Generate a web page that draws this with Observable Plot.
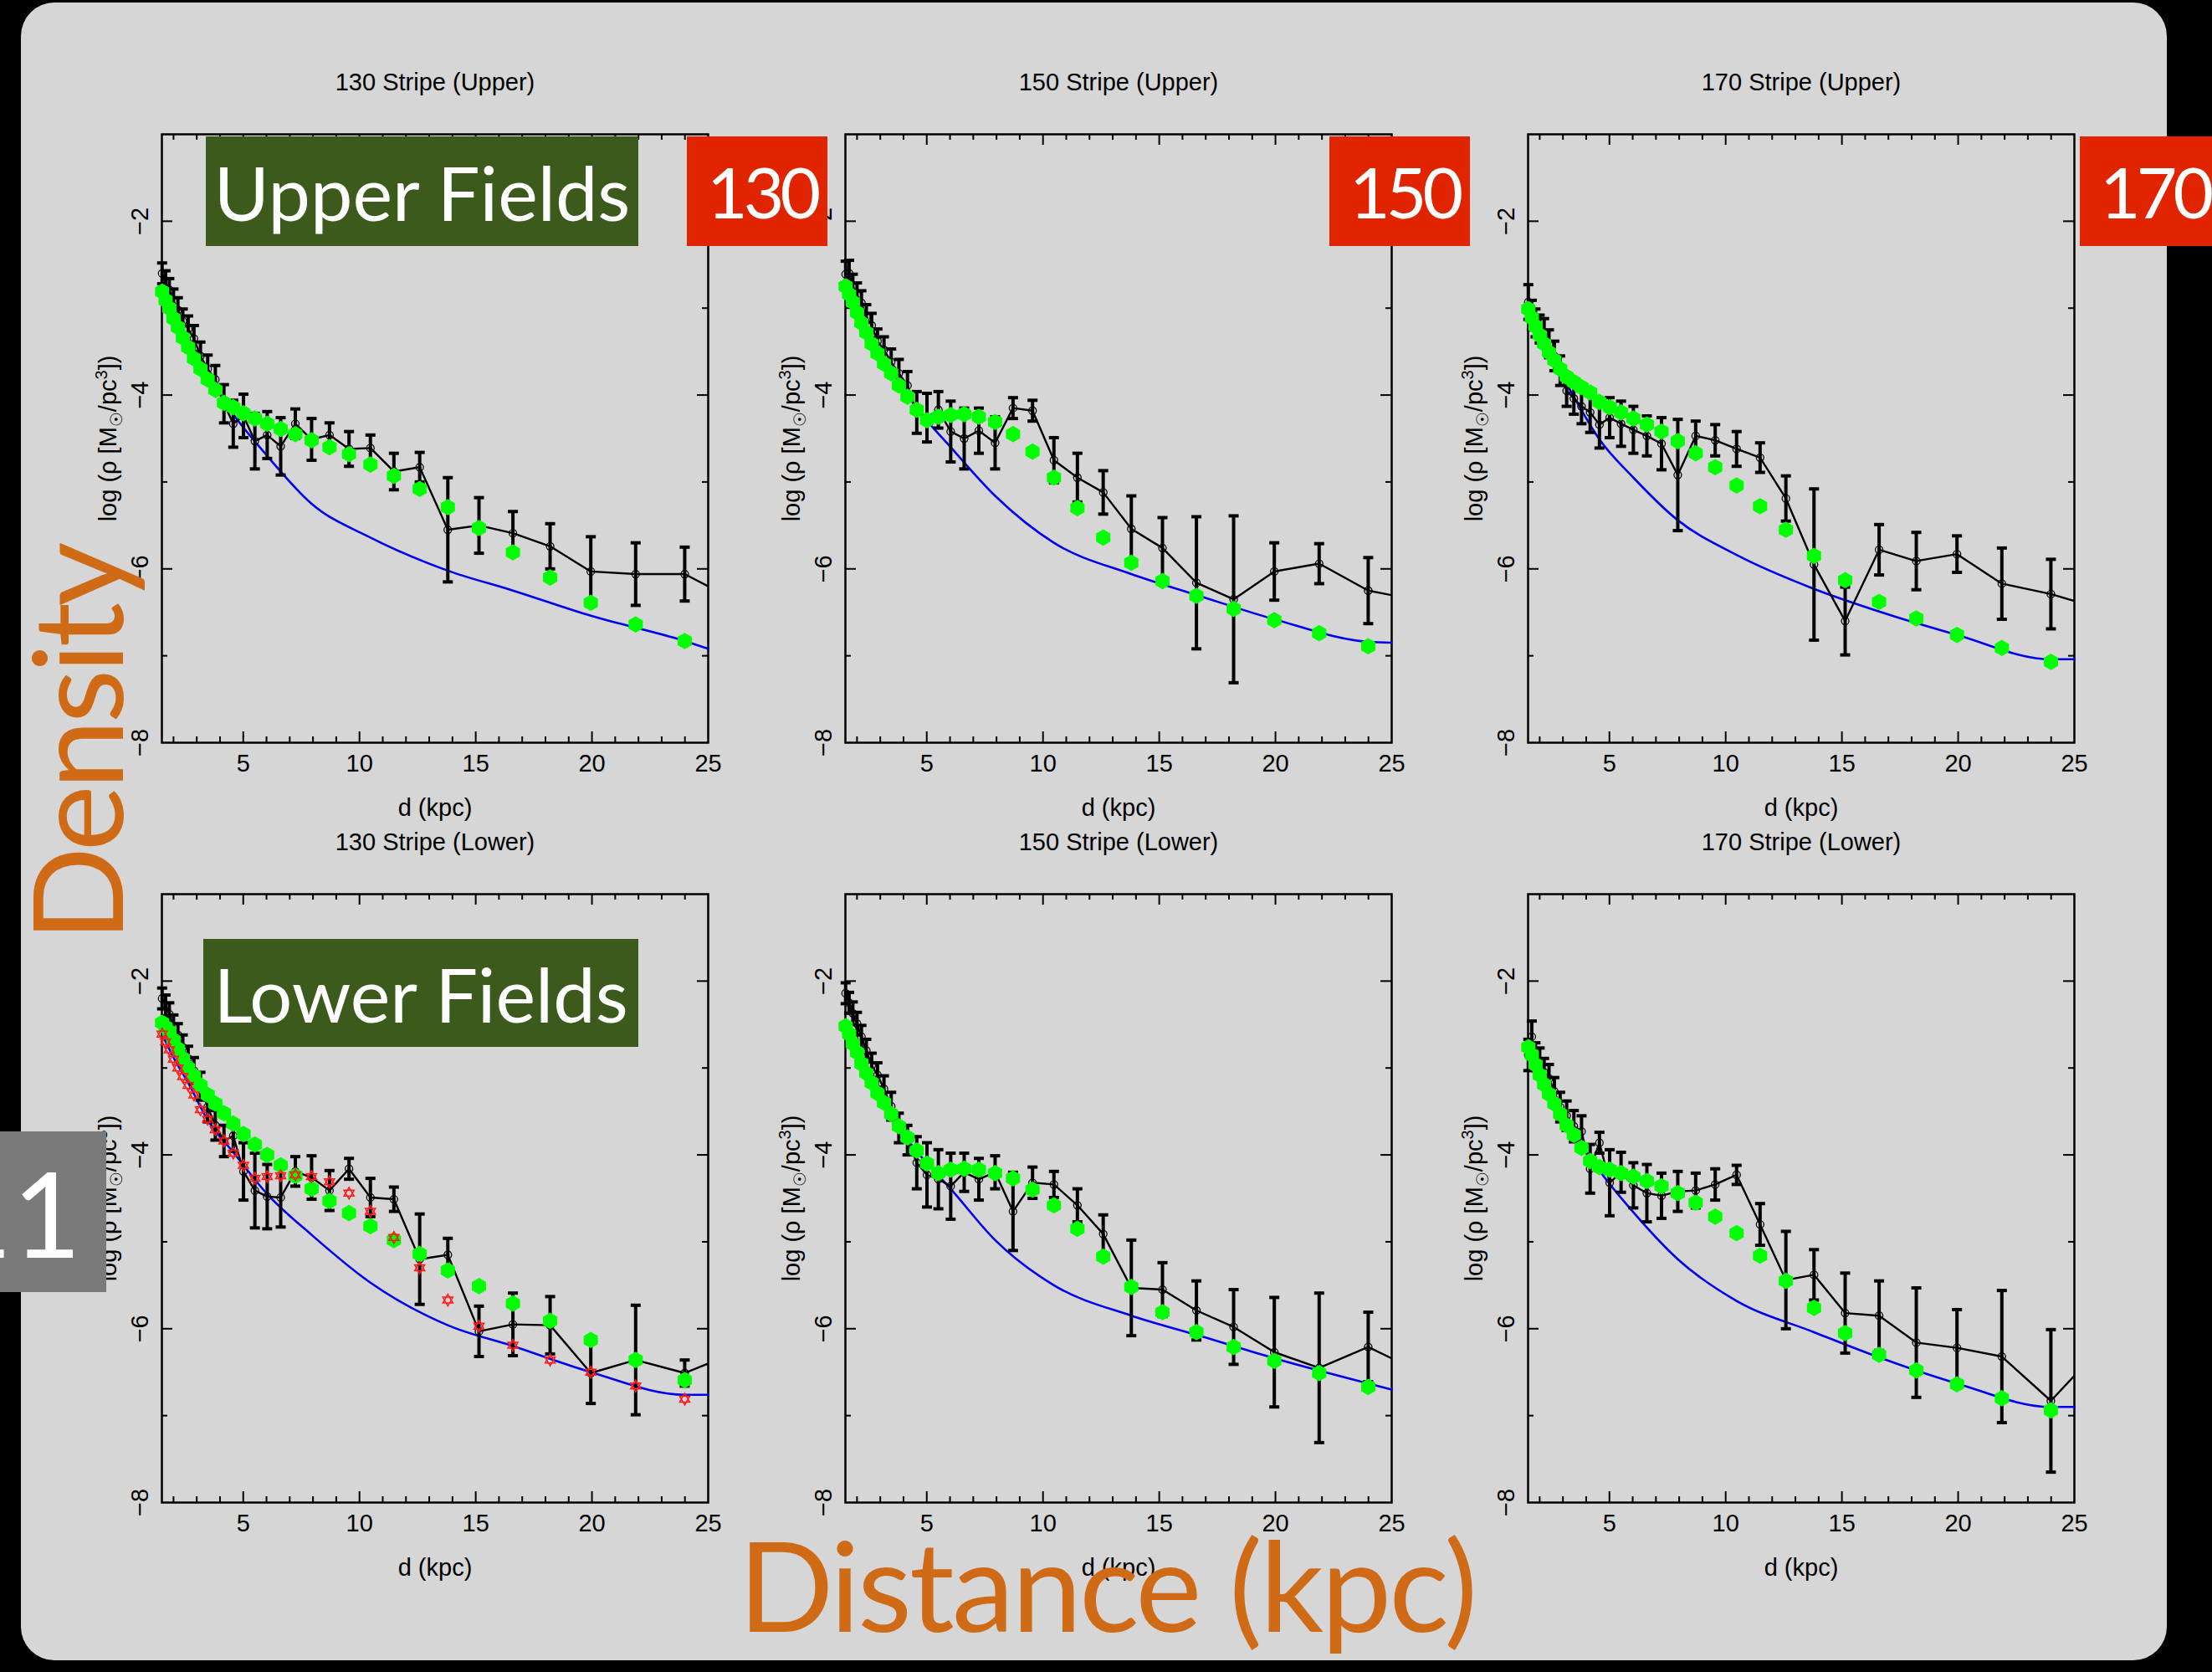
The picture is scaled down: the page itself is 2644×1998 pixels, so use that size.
<!DOCTYPE html>
<html><head><meta charset="utf-8">
<script src="https://cdn.jsdelivr.net/npm/d3@7"></script>
<script src="https://cdn.jsdelivr.net/npm/@observablehq/plot@0.6"></script>
<style>
html,body{margin:0;padding:0;background:#000;}
#page{position:relative;width:2644px;height:1998px;overflow:hidden;background:#000;}
#slide{position:absolute;left:25px;top:3px;width:2565px;height:1981px;border-radius:40px;background:#d6d6d6;}
.panel{position:absolute;width:783px;height:927px;}
.box{position:absolute;display:flex;align-items:center;color:#fff;font-family:Lato,sans-serif;font-size:90px;line-height:1;white-space:nowrap;overflow:hidden;box-sizing:border-box;}
.green{background:#3b5a1b;justify-content:center;}
.red{background:#e02400;padding-left:24px;font-size:84px;letter-spacing:-5px;}
.grey{background:#7a7a7a;justify-content:flex-end;padding-right:30px;font-size:142px;}
.big{position:absolute;color:#cf6b17;font-family:Lato,sans-serif;font-size:150px;line-height:1;white-space:nowrap;}
</style></head><body><div id="page"><div id="slide"></div></div>
<script>
// ---------- data ----------
const dist = [1.51, 1.66, 1.82, 2.00, 2.19, 2.40, 2.63, 2.88, 3.16, 3.47, 3.80, 4.17, 4.57, 5.01, 5.50, 6.03, 6.61, 7.24, 7.94, 8.71, 9.55, 10.47, 11.48, 12.59, 13.80, 15.14, 16.60, 18.20, 19.95, 21.88, 23.99, 26.30];
const smoothDist = [1.51, 2.00, 2.63, 3.47, 4.57, 6.03, 7.94, 10.47, 13.80, 16.60, 19.95, 23.99, 25.00];

const titles = ["130 Stripe (Upper)", "150 Stripe (Upper)", "170 Stripe (Upper)", "130 Stripe (Lower)", "150 Stripe (Lower)", "170 Stripe (Lower)"];
const xLabel = "d (kpc)";
const yLabel = "log (ρ [M☉/pc³])";
const xTickValues = [5, 10, 15, 20, 25];
const xTickLabels = ["5", "10", "15", "20", "25"];
const yTickValues = [-2, -4, -6, -8];
const yTickLabels = ["−2", "−4", "−6", "−8"];
const xMajorTicks = [5, 10, 15, 20];
const xMinorTicks = [2, 3, 4, 6, 7, 8, 9, 11, 12, 13, 14, 16, 17, 18, 19, 21, 22, 23, 24];
const yMajorTicks = [-2, -4, -6];
const yMinorTicks = [-3, -5, -7];

// Upper 130
const upper130Obs = [-2.60, -2.70, -2.79, -2.92, -3.02, -3.15, -3.24, -3.35, -3.55, -3.70, -3.82, -4.10, -4.33, -4.24, -4.53, -4.46, -4.59, -4.33, -4.51, -4.46, -4.62, -4.61, -4.88, -4.83, -5.55, -5.50, -5.59, -5.74, -6.03, -6.06, -6.06, -6.38];
const upper130Err = [0.12, 0.13, 0.13, 0.14, 0.14, 0.14, 0.15, 0.15, 0.16, 0.16, 0.16, 0.22, 0.27, 0.25, 0.32, 0.27, 0.33, 0.17, 0.24, 0.14, 0.20, 0.15, 0.21, 0.17, 0.60, 0.32, 0.25, 0.26, 0.40, 0.36, 0.31];
const upper130Model = [-2.81, -2.91, -3.00, -3.12, -3.22, -3.34, -3.45, -3.58, -3.70, -3.82, -3.94, -4.09, -4.14, -4.21, -4.27, -4.33, -4.39, -4.45, -4.52, -4.60, -4.68, -4.80, -4.93, -5.08, -5.29, -5.53, -5.81, -6.10, -6.39, -6.64, -6.83];
const upper130Smooth = [-2.79, -3.05, -3.36, -3.77, -4.22, -4.70, -5.25, -5.64, -6.02, -6.25, -6.54, -6.83, -6.92];

// Upper 150
const upper150Obs = [-2.61, -2.60, -2.75, -2.85, -2.94, -3.10, -3.20, -3.38, -3.48, -3.62, -3.75, -3.89, -4.20, -4.26, -4.17, -4.42, -4.50, -4.41, -4.55, -4.15, -4.18, -4.75, -4.95, -5.12, -5.54, -5.76, -6.16, -6.35, -6.03, -5.94, -6.25, -6.37];
const upper150Err = [0.15, 0.15, 0.14, 0.14, 0.14, 0.14, 0.14, 0.14, 0.15, 0.15, 0.16, 0.16, 0.24, 0.28, 0.21, 0.35, 0.35, 0.26, 0.30, 0.12, 0.12, 0.26, 0.28, 0.25, 0.38, 0.35, 0.76, 0.96, 0.33, 0.23, 0.38];
const upper150Model = [-2.75, -2.84, -2.93, -3.05, -3.17, -3.28, -3.41, -3.52, -3.64, -3.75, -3.89, -4.02, -4.17, -4.29, -4.25, -4.23, -4.22, -4.25, -4.31, -4.45, -4.65, -4.95, -5.30, -5.64, -5.93, -6.14, -6.31, -6.46, -6.59, -6.74, -6.89];
const upper150Smooth = [-2.75, -3.02, -3.32, -3.71, -4.15, -4.60, -5.16, -5.70, -6.06, -6.30, -6.58, -6.84, -6.85];

// Upper 170
const upper170Obs = [-2.93, -3.08, -3.17, -3.24, -3.28, -3.41, -3.55, -3.72, -3.95, -4.04, -4.13, -4.20, -4.34, -4.26, -4.33, -4.40, -4.47, -4.56, -4.92, -4.47, -4.52, -4.62, -4.72, -5.19, -5.95, -6.60, -5.78, -5.91, -5.83, -6.17, -6.29, -6.47];
const upper170Err = [0.20, 0.17, 0.16, 0.16, 0.16, 0.16, 0.17, 0.17, 0.18, 0.18, 0.20, 0.23, 0.27, 0.23, 0.26, 0.27, 0.23, 0.30, 0.64, 0.17, 0.18, 0.20, 0.17, 0.26, 0.87, 0.39, 0.29, 0.33, 0.21, 0.41, 0.40];
const upper170Model = [-3.01, -3.11, -3.21, -3.31, -3.41, -3.51, -3.60, -3.70, -3.79, -3.85, -3.91, -3.97, -4.08, -4.14, -4.20, -4.27, -4.34, -4.42, -4.53, -4.67, -4.83, -5.04, -5.28, -5.55, -5.85, -6.13, -6.38, -6.57, -6.76, -6.91, -7.07];
const upper170Smooth = [-3.00, -3.27, -3.61, -4.02, -4.51, -4.95, -5.44, -5.84, -6.23, -6.49, -6.76, -7.04, -7.04];

// Lower 130
const lower130Obs = [-2.20, -2.28, -2.38, -2.52, -2.62, -2.76, -2.89, -3.03, -3.21, -3.45, -3.66, -3.84, -3.78, -4.19, -4.41, -4.48, -4.49, -4.19, -4.26, -4.41, -4.16, -4.49, -4.51, -5.20, -5.15, -6.03, -5.95, -5.96, -6.51, -6.36, -6.51, -6.26];
const lower130Err = [0.12, 0.12, 0.13, 0.13, 0.13, 0.14, 0.14, 0.15, 0.16, 0.17, 0.17, 0.18, 0.18, 0.33, 0.43, 0.37, 0.34, 0.17, 0.25, 0.23, 0.12, 0.22, 0.14, 0.52, 0.19, 0.29, 0.36, 0.33, 0.35, 0.63, 0.15];
const lower130Model = [-2.48, -2.53, -2.58, -2.68, -2.78, -2.89, -3.00, -3.09, -3.20, -3.31, -3.41, -3.52, -3.64, -3.76, -3.88, -4.00, -4.12, -4.24, -4.39, -4.53, -4.67, -4.82, -4.98, -5.14, -5.33, -5.51, -5.71, -5.91, -6.13, -6.36, -6.59];
const lower130Alt = [-2.61, -2.70, -2.79, -2.90, -3.00, -3.10, -3.20, -3.31, -3.48, -3.59, -3.71, -3.84, -3.98, -4.12, -4.27, -4.25, -4.24, -4.23, -4.25, -4.31, -4.44, -4.65, -4.95, -5.30, -5.67, -5.97, -6.19, -6.36, -6.50, -6.66, -6.81];
const lower130Smooth = [-2.61, -2.88, -3.17, -3.60, -3.97, -4.45, -4.92, -5.47, -5.96, -6.20, -6.50, -6.76, -6.76];

// Lower 150
const lower150Obs = [-2.14, -2.25, -2.37, -2.49, -2.64, -2.80, -2.97, -3.08, -3.24, -3.44, -3.69, -3.83, -4.09, -4.23, -4.28, -4.36, -4.20, -4.28, -4.20, -4.65, -4.32, -4.34, -4.58, -4.91, -5.53, -5.55, -5.79, -5.98, -6.27, -6.45, -6.21, -6.51];
const lower150Err = [0.12, 0.12, 0.13, 0.13, 0.13, 0.13, 0.14, 0.14, 0.15, 0.16, 0.17, 0.17, 0.30, 0.37, 0.34, 0.38, 0.22, 0.24, 0.19, 0.45, 0.18, 0.15, 0.19, 0.22, 0.55, 0.31, 0.34, 0.43, 0.63, 0.86, 0.40];
const lower150Model = [-2.52, -2.61, -2.72, -2.82, -2.95, -3.06, -3.17, -3.29, -3.40, -3.53, -3.67, -3.80, -3.95, -4.10, -4.21, -4.17, -4.16, -4.17, -4.21, -4.27, -4.40, -4.58, -4.85, -5.17, -5.52, -5.81, -6.04, -6.21, -6.37, -6.51, -6.67];
const lower150Smooth = [-2.52, -2.80, -3.14, -3.56, -3.96, -4.39, -4.98, -5.50, -5.85, -6.07, -6.34, -6.63, -6.70];

// Lower 170
const lower170Obs = [-2.85, -2.64, -2.87, -2.93, -3.05, -3.12, -3.27, -3.45, -3.55, -3.67, -3.73, -4.16, -3.86, -4.32, -4.20, -4.35, -4.44, -4.47, -4.42, -4.41, -4.34, -4.23, -4.80, -5.44, -5.38, -5.82, -5.85, -6.16, -6.22, -6.32, -6.83, -6.17];
const lower170Err = [0.18, 0.18, 0.16, 0.16, 0.16, 0.16, 0.16, 0.17, 0.17, 0.18, 0.18, 0.28, 0.12, 0.38, 0.23, 0.26, 0.33, 0.26, 0.23, 0.20, 0.18, 0.11, 0.24, 0.56, 0.29, 0.46, 0.40, 0.63, 0.44, 0.76, 0.82];
const lower170Model = [-2.76, -2.85, -2.96, -3.08, -3.19, -3.30, -3.41, -3.53, -3.66, -3.77, -3.92, -4.07, -4.14, -4.17, -4.21, -4.25, -4.30, -4.36, -4.44, -4.55, -4.71, -4.90, -5.16, -5.45, -5.76, -6.05, -6.30, -6.48, -6.64, -6.80, -6.94];
const lower170Smooth = [-2.75, -3.01, -3.32, -3.73, -4.18, -4.66, -5.20, -5.68, -6.04, -6.33, -6.63, -6.90, -6.90];

const panels = [
  {title: titles[0], obs: upper130Obs, err: upper130Err, model: upper130Model, smooth: upper130Smooth, left: 83, top: 60},
  {title: titles[1], obs: upper150Obs, err: upper150Err, model: upper150Model, smooth: upper150Smooth, left: 900, top: 60},
  {title: titles[2], obs: upper170Obs, err: upper170Err, model: upper170Model, smooth: upper170Smooth, left: 1716, top: 60},
  {title: titles[3], obs: lower130Obs, err: lower130Err, model: lower130Model, smooth: lower130Smooth, alt: lower130Alt, left: 83, top: 968},
  {title: titles[4], obs: lower150Obs, err: lower150Err, model: lower150Model, smooth: lower150Smooth, left: 900, top: 968},
  {title: titles[5], obs: lower170Obs, err: lower170Err, model: lower170Model, smooth: lower170Smooth, left: 1716, top: 968}
];

// ---------- drawing ----------
const FW = 653, FH = 727, ML = 110, MR = 20, MT = 100, MB = 100;
const FONT = "Liberation Sans, Arial, sans-serif";
const capSymbol = {draw(ctx, size) {const r = Math.sqrt(size / Math.PI); ctx.moveTo(-r, 0); ctx.lineTo(r, 0);}};
const davidSymbol = {draw(ctx, size) {
  const r = Math.sqrt(size / Math.PI);
  for (const a0 of [-Math.PI / 2, Math.PI / 2]) {
    for (let k = 0; k < 3; k++) {
      const a = a0 + k * 2 * Math.PI / 3, x = r * Math.cos(a), y = r * Math.sin(a);
      if (k) ctx.lineTo(x, y); else ctx.moveTo(x, y);
    }
    ctx.closePath();
  }
}};

const page = document.getElementById("page");
const mid = {textAnchor: "middle", lineAnchor: "middle", fill: "#000"};

for (const p of panels) {
  const pts = p.err.map((e, i) => ({d: dist[i], o: p.obs[i], e, m: p.model[i], a: p.alt ? p.alt[i] : null}));
  const line = dist.map((d, i) => ({d, o: p.obs[i]}));
  const smooth = smoothDist.map((d, i) => ({d, v: p.smooth[i]}));
  const tk = {stroke: "#000", strokeWidth: 2};
  const marks = [
    Plot.ruleX(xMajorTicks, {x: d => d, insetTop: FH - 13, ...tk}),
    Plot.ruleX(xMajorTicks, {x: d => d, insetBottom: FH - 13, ...tk}),
    Plot.ruleX(xMinorTicks, {x: d => d, insetTop: FH - 7, ...tk}),
    Plot.ruleX(xMinorTicks, {x: d => d, insetBottom: FH - 7, ...tk}),
    Plot.ruleY(yMajorTicks, {y: d => d, insetRight: FW - 13, ...tk}),
    Plot.ruleY(yMajorTicks, {y: d => d, insetLeft: FW - 13, ...tk}),
    Plot.ruleY(yMinorTicks, {y: d => d, insetRight: FW - 7, ...tk}),
    Plot.ruleY(yMinorTicks, {y: d => d, insetLeft: FW - 7, ...tk}),
    Plot.frame({stroke: "#000", strokeWidth: 2.5}),
    Plot.text(xTickValues, {x: d => d, frameAnchor: "bottom", dy: 25, text: (d, i) => xTickLabels[i], fontSize: 29, ...mid}),
    Plot.text(yTickValues, {y: d => d, frameAnchor: "left", dx: -26, rotate: -90, text: (d, i) => yTickLabels[i], fontSize: 29, ...mid}),
    Plot.text([p.title], {frameAnchor: "top", dy: -62, text: d => d, fontSize: 29, ...mid}),
    Plot.text([xLabel], {frameAnchor: "bottom", dy: 78, text: d => d, fontSize: 29, ...mid}),
    Plot.text([yLabel], {frameAnchor: "left", dx: -64, rotate: -90, text: d => d, fontSize: 29, ...mid}),
    Plot.line(smooth, {x: "d", y: "v", stroke: "#0000f0", strokeWidth: 2.6, curve: "monotone-x"}),
    Plot.line(line, {x: "d", y: "o", stroke: "#000", strokeWidth: 2.4, clip: true}),
    Plot.ruleX(pts, {x: "d", y1: d => d.o - d.e, y2: d => d.o + d.e, stroke: "#000", strokeWidth: 4}),
    Plot.dot(pts, {x: "d", y: d => d.o - d.e, symbol: capSymbol, r: 6, stroke: "#000", strokeWidth: 4}),
    Plot.dot(pts, {x: "d", y: d => d.o + d.e, symbol: capSymbol, r: 6, stroke: "#000", strokeWidth: 4}),
    Plot.dot(pts, {x: "d", y: "o", r: 4.5, stroke: "#000", fill: "none", strokeWidth: 1.3}),
    Plot.dot(pts, {x: "d", y: "m", symbol: "hexagon", r: 8.5, fill: "#00ff00", stroke: "none"})
  ];
  if (p.alt) marks.push(Plot.dot(pts, {x: "d", y: "a", symbol: davidSymbol, r: 7, stroke: "#ff1a1a", fill: "none", strokeWidth: 1.5}));
  const svg = Plot.plot({
    width: ML + FW + MR, height: MT + FH + MB,
    marginLeft: ML, marginRight: MR, marginTop: MT, marginBottom: MB,
    x: {domain: [1.5, 25], axis: null},
    y: {domain: [-8, -1], axis: null},
    style: {background: "transparent", overflow: "visible", fontFamily: FONT, maxWidth: "none", color: "#000"},
    marks
  });
  // subscript / superscript in the y label
  const lab = [...svg.querySelectorAll("text")].find(t => t.textContent === yLabel);
  if (lab) {
    lab.textContent = "";
    const parts = [["log (ρ [M", 0, null], ["☉", 7, "20px"], ["/pc", -7, null], ["3", -11, "20px"], ["])", 11, null]];
    for (const [s, dy, fs] of parts) {
      const t = document.createElementNS("http://www.w3.org/2000/svg", "tspan");
      t.textContent = s;
      if (dy) t.setAttribute("dy", dy);
      if (fs) t.setAttribute("font-size", fs);
      lab.appendChild(t);
    }
  }
  const div = document.createElement("div");
  div.className = "panel";
  div.style.left = p.left + "px";
  div.style.top = p.top + "px";
  div.appendChild(svg);
  page.appendChild(div);
}

// ---------- slide overlays ----------
function box(cls, text, l, t, w, h) {
  const d = document.createElement("div");
  d.className = "box " + cls;
  Object.assign(d.style, {left: l + "px", top: t + "px", width: w + "px", height: h + "px"});
  d.textContent = text;
  page.appendChild(d);
  return d;
}
box("green", "Upper Fields", 246, 163, 517, 131);
box("green", "Lower Fields", 243, 1122, 520, 129);
box("red", "130", 821, 163, 168, 131);
box("red", "150", 1589, 163, 168, 131);
box("red", "170", 2486, 163, 175, 131);
box("grey", "11", 0, 1352, 127, 192);

const dens = document.createElement("div");
dens.className = "big";
dens.textContent = "Density";
Object.assign(dens.style, {left: "89px", top: "889px", letterSpacing: "-5px", transform: "translate(-50%,-50%) rotate(-90deg)"});
page.appendChild(dens);

const distT = document.createElement("div");
distT.className = "big";
distT.textContent = "Distance (kpc)";
Object.assign(distT.style, {left: "723px", top: "1817px", width: "1200px", textAlign: "center", letterSpacing: "-3px"});
page.appendChild(distT);
</script></body></html>
